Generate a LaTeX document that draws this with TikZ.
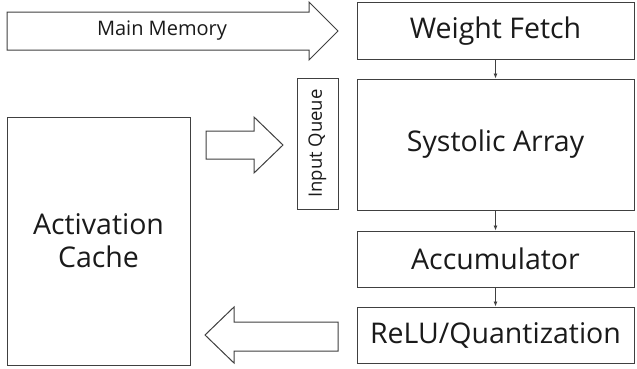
\documentclass[tikz,border=0pt]{standalone}
\usepackage{fontspec}
\setmainfont{Open Sans}
\usepackage{tikz}
\usetikzlibrary{arrows.meta}
\definecolor{edgegray}{HTML}{404040}
\definecolor{txtgray}{HTML}{1A1A1A}

\begin{document}
\begin{tikzpicture}[x=1pt,y=-1pt,
  block/.style={draw=edgegray,line width=1pt,fill=white,text=txtgray,
    inner sep=0pt,font=\fontsize{28.5}{33}\selectfont,align=center},
  bigarrow/.style={draw=edgegray,line width=1pt,fill=white,line join=miter},
  flow/.style={draw=edgegray,line width=0.8pt,-{Latex[length=5pt,width=4pt]}}]
\useasboundingbox (0,0) rectangle (637,368);

\draw[bigarrow] (7,12)--(309,12)--(309,2)--(338,31)--(309,60)--(309,50)--(7,50)--cycle;
\node[text=txtgray,font=\fontsize{20}{24}\selectfont] (mm) at (162,31) {Main Memory};

\node[block,minimum width=277,minimum height=56.5] (wf) at (495.5,30.75) {Weight Fetch};
\node[block,minimum width=277,minimum height=131] (sa) at (495.5,144.5) {Systolic Array};
\node[block,minimum width=277,minimum height=56] (acc) at (495.5,259) {Accumulator};
\node[block,minimum width=277,minimum height=56] (relu) at (495.5,335) {ReLU/Quantization};

\node[block,rotate=90,minimum width=131,minimum height=41,
  font=\fontsize{18.5}{22}\selectfont] (iq) at (317.5,143.5) {Input Queue};
\node[block,minimum width=183,minimum height=248] (ac) at (98.5,241) {Activation\\Cache};

\draw[bigarrow] (206,131)--(254,131)--(254,117)--(283,145)--(254,173)--(254,159)--(206,159)--cycle;
\draw[bigarrow] (338,322)--(234,322)--(234,307)--(205,335)--(234,363)--(234,351)--(338,351)--cycle;

\draw[flow] (wf) -- (sa);
\draw[flow] (sa) -- (acc);
\draw[flow] (acc) -- (relu);
\end{tikzpicture}
\end{document}
